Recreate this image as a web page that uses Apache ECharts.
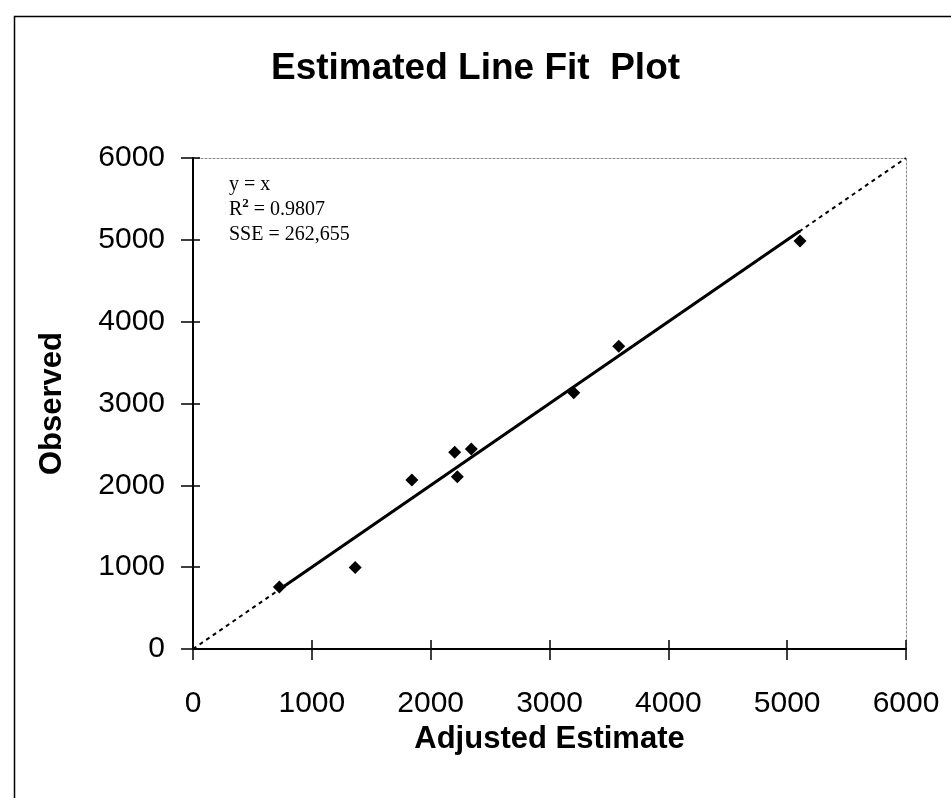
<!DOCTYPE html>
<html>
<head>
<meta charset="utf-8">
<script src="https://cdn.jsdelivr.net/npm/echarts@6/dist/echarts.min.js"></script>
<style>html,body{margin:0;padding:0;background:#fff}#c{width:951px;height:798px}</style>
</head>
<body>
<div id="c"></div>
<script>
const chartTitle = 'Estimated Line Fit  Plot';
const xName = 'Adjusted Estimate';
const yName = 'Observed';
const estimate = [727, 1365, 1842, 2202, 2224, 2342, 3204, 3583, 5108];
const observed = [759, 995, 2065, 2403, 2105, 2444, 3130, 3700, 4985];
const axisMin = 0, axisMax = 6000, axisStep = 1000;
const statLines = ['y = x', '0.9807', '262,655'];

const pts = estimate.map((x, i) => [x, observed[i]]);
const lo = Math.min(...estimate), hi = Math.max(...estimate);

const chart = echarts.init(document.getElementById('c'), null, {renderer: 'canvas'});
const sans = 'Liberation Sans, Arial, sans-serif';
const serif = 'Liberation Serif, Times New Roman, serif';
const plain = v => String(v);
const base = {min: axisMin, max: axisMax, interval: axisStep, type: 'value', splitLine: {show: false}};

chart.setOption({
  backgroundColor: '#fff',
  animation: false,
  title: {
    text: chartTitle, left: 'center', top: 45,
    textStyle: {fontFamily: sans, fontSize: 37, fontWeight: 'bold', color: '#000'}
  },
  grid: {left: 193, right: 45, top: 158, bottom: 149, containLabel: false},
  xAxis: [
    Object.assign({}, base, {
      position: 'bottom', name: xName, nameLocation: 'middle', nameGap: 67,
      nameTextStyle: {fontFamily: sans, fontSize: 31, fontWeight: 'bold', color: '#000'},
      axisLine: {show: true, onZero: false, lineStyle: {color: '#000', width: 2}},
      axisTick: {show: true, inside: false, length: 11, lineStyle: {color: '#000', width: 1.5}},
      axisLabel: {fontFamily: sans, fontSize: 30, color: '#000', margin: 40, formatter: plain}, z: 5
    }),
    Object.assign({}, base, {
      position: 'bottom', axisLine: {show: false, onZero: false},
      axisTick: {show: true, inside: true, length: 9, lineStyle: {color: '#000', width: 1.5}},
      axisLabel: {show: false}
    }),
    Object.assign({}, base, {
      position: 'top', axisLine: {show: true, onZero: false, lineStyle: {color: '#888', width: 1, type: [2, 2]}},
      axisTick: {show: false}, axisLabel: {show: false}
    })
  ],
  yAxis: [
    Object.assign({}, base, {
      position: 'left', name: yName, nameLocation: 'middle', nameGap: 125,
      nameTextStyle: {fontFamily: sans, fontSize: 31, fontWeight: 'bold', color: '#000'},
      axisLine: {show: true, onZero: false, lineStyle: {color: '#000', width: 2}},
      axisTick: {show: true, inside: false, length: 12, lineStyle: {color: '#000', width: 1.5}},
      axisLabel: {fontFamily: sans, fontSize: 30, color: '#000', margin: 28, formatter: plain}, z: 5
    }),
    Object.assign({}, base, {
      position: 'left', axisLine: {show: false, onZero: false},
      axisTick: {show: true, inside: true, length: 7, lineStyle: {color: '#000', width: 1.5}},
      axisLabel: {show: false}
    }),
    Object.assign({}, base, {
      position: 'right', axisLine: {show: true, onZero: false, lineStyle: {color: '#888', width: 1, type: [2, 2]}},
      axisTick: {show: false}, axisLabel: {show: false}
    })
  ],
  graphic: [
    {type: 'rect', left: 12, top: 14, shape: {width: 960, height: 800}, silent: true,
     style: {fill: 'none', stroke: '#000', lineWidth: 1.5}, z: -1},
    {type: 'text', left: 229, top: 175, silent: true,
     style: {
       text: '{a|' + statLines[0] + '}\n{a|R}{s|2}{a| = ' + statLines[1] + '}\n{a|SSE = ' + statLines[2] + '}',
       rich: {
         a: {fontFamily: serif, fontSize: 20, color: '#000', lineHeight: 25},
         s: {fontFamily: serif, fontSize: 13, fontWeight: 'bold', color: '#000', lineHeight: 25, verticalAlign: 'top', padding: [0, 0, 8, 0]}
       }
     }}
  ],
  series: [
    {type: 'line', data: [[axisMin, axisMin], [axisMax, axisMax]], showSymbol: false, symbol: 'none',
     lineStyle: {color: '#000', width: 2, type: [4, 4]}, z: 2},
    {type: 'line', data: [[lo, lo], [hi, hi]], showSymbol: false, symbol: 'none',
     lineStyle: {color: '#000', width: 3}, z: 3},
    {type: 'scatter', data: pts, symbol: 'diamond', symbolSize: 13,
     itemStyle: {color: '#000', opacity: 1}, z: 4}
  ]
});
</script>
</body>
</html>
